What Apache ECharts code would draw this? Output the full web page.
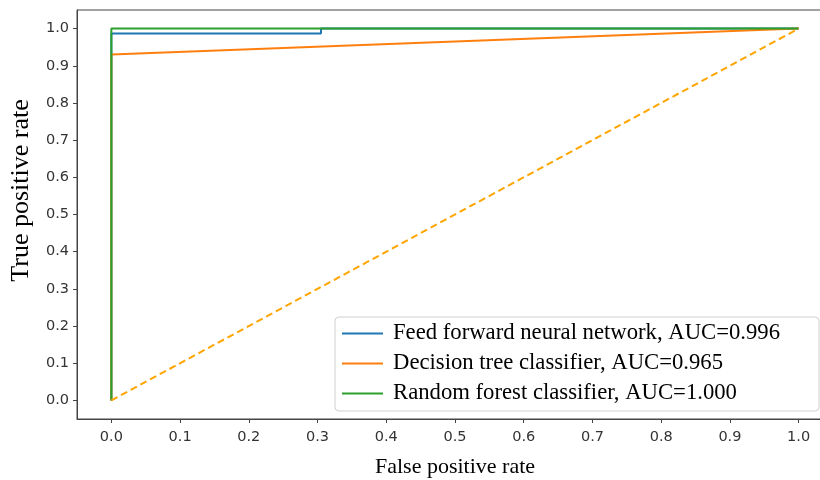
<!DOCTYPE html>
<html>
<head>
<meta charset="utf-8">
<script src="https://cdn.jsdelivr.net/npm/echarts@6/dist/echarts.min.js"></script>
<style>html,body{margin:0;padding:0;background:#fff}#c{width:820px;height:480px}</style>
</head>
<body>
<div id="c"></div>
<script>
const tickValues = [0, 0.1, 0.2, 0.3, 0.4, 0.5, 0.6, 0.7, 0.8, 0.9, 1.0];
const seriesNames = [
  'Feed forward neural network, AUC=0.996',
  'Decision tree classifier, AUC=0.965',
  'Random forest classifier, AUC=1.000'
];
const ffnnFpr = [0, 0, 0.305, 0.305, 1];
const ffnnTpr = [0, 0.987, 0.987, 1, 1];
const dtFpr = [0, 0, 1];
const dtTpr = [0, 0.93, 1];
const rfFpr = [0, 0, 1];
const rfTpr = [0, 1, 1];
const diagFpr = [0, 1];
const diagTpr = [0, 1];

const pairs = (xs, ys) => xs.map((x, i) => [x, ys[i]]);
const chart = echarts.init(document.getElementById('c'), null, {renderer: 'canvas'});
const tickFont = {fontFamily: 'DejaVu Sans', fontSize: 14.5, color: '#333'};
const serif = 'Liberation Serif';
const mkLine = (name, data, color, width, dashed) => ({
  name, type: 'line', data, showSymbol: false, symbol: 'none', animation: false,
  lineStyle: {color, width, type: dashed ? [7, 4] : 'solid'},
  itemStyle: {color}
});
chart.setOption({
  animation: false,
  grid: {left: 77, top: 10, bottom: 61, right: -13, outerBoundsMode: 'none', containLabel: false,
         show: true, borderColor: '#444', borderWidth: 1, backgroundColor: 'transparent'},
  xAxis: {
    type: 'value', min: -0.05, max: 1.05,
    name: 'False positive rate', nameLocation: 'middle', nameGap: 37,
    nameTextStyle: {fontFamily: serif, fontSize: 22, color: '#000'},
    axisLine: {show: true, onZero: false, lineStyle: {color: '#444'}},
    axisTick: {show: true, length: 4, customValues: tickValues, lineStyle: {color: '#444'}},
    axisLabel: Object.assign({customValues: tickValues, margin: 11, formatter: v => v.toFixed(1)}, tickFont),
    splitLine: {show: false}
  },
  yAxis: {
    type: 'value', min: -0.05, max: 1.05,
    name: 'True positive rate', nameLocation: 'middle', nameGap: 43, nameRotate: 90,
    nameTextStyle: {fontFamily: serif, fontSize: 26, color: '#000', padding: [0, 0, 0, 48]},
    axisLine: {show: true, onZero: false, lineStyle: {color: '#444'}},
    axisTick: {show: true, length: 4, customValues: tickValues, lineStyle: {color: '#444'}},
    axisLabel: Object.assign({customValues: tickValues, margin: 8, formatter: v => v.toFixed(1)}, tickFont),
    splitLine: {show: false}
  },
  legend: {
    data: seriesNames,
    orient: 'vertical', left: 335, top: 317,
    icon: 'rect', itemWidth: 41, itemHeight: 2, itemGap: 7,
    padding: [5, 39, 6, 7],
    backgroundColor: '#fff', borderColor: '#d0d0d0', borderWidth: 1, borderRadius: 4,
    textStyle: {fontFamily: serif, fontSize: 22.7, color: '#000', lineHeight: 22, padding: [0, 0, 0, 5]}
  },
  series: [
    mkLine(seriesNames[0], pairs(ffnnFpr, ffnnTpr), '#1f77b4', 2, false),
    mkLine(seriesNames[1], pairs(dtFpr, dtTpr), '#ff7f0e', 2, false),
    mkLine(seriesNames[2], pairs(rfFpr, rfTpr), '#2ca02c', 2, false),
    mkLine('diagonal', pairs(diagFpr, diagTpr), '#ffa500', 2, true)
  ]
});
</script>
</body>
</html>
